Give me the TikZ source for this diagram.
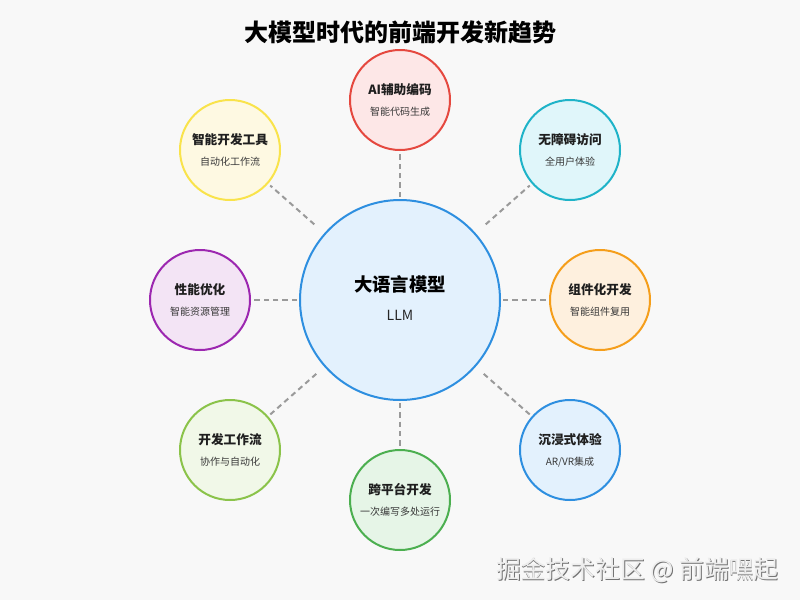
\documentclass[tikz,border=0pt]{standalone}
\usepackage{fontspec}
\setmainfont{Noto Sans CJK SC}

\definecolor{bgc}{HTML}{F8F8F8}
\definecolor{linkc}{HTML}{9A9A9A}
\definecolor{llmc}{HTML}{2E8FE0}   \definecolor{llmf}{HTML}{E3F1FD}
\definecolor{aic}{HTML}{E5483F}    \definecolor{aif}{HTML}{FDE7E7}
\definecolor{accc}{HTML}{1FB3C8}   \definecolor{accf}{HTML}{E0F6FA}
\definecolor{cmpc}{HTML}{F59E1B}   \definecolor{cmpf}{HTML}{FEF0DE}
\definecolor{vrc}{HTML}{2E8FE0}    \definecolor{vrf}{HTML}{E3F1FD}
\definecolor{xpc}{HTML}{4CAF50}    \definecolor{xpf}{HTML}{E6F5E7}
\definecolor{wfc}{HTML}{8BC34A}    \definecolor{wff}{HTML}{F1F8E8}
\definecolor{perc}{HTML}{9C27B0}   \definecolor{perf}{HTML}{F3E4F5}
\definecolor{toolc}{HTML}{F9E34B}  \definecolor{toolf}{HTML}{FEF9E2}

\begin{document}
\begin{tikzpicture}[x=0.75pt,y=-0.75pt,
    ball/.style={circle,draw=#1c,fill=#1f,line width=1.5pt,minimum size=75pt,inner sep=0pt},
    hub/.style={circle,draw=llmc,fill=llmf,line width=1.5pt,minimum size=150pt,inner sep=0pt},
    ttl/.style={font=\bfseries\fontsize{9.5}{11}\selectfont,text=black!88,inner sep=0pt},
    sub/.style={font=\fontsize{7.5}{9}\selectfont,text=black!78,inner sep=0pt},
    link/.style={linkc,line width=1.5pt,dash pattern=on 4pt off 3pt,shorten >=2pt,shorten <=1.5pt}]

  % background
  \fill[bgc] (0,0) rectangle (800,600);

  \node[font=\bfseries\fontsize{18}{21}\selectfont,inner sep=0pt] (head) at (400,32) {大模型时代的前端开发新趋势};

  % center
  \node[hub] (llm) at (400,300) {};
  \node[font=\bfseries\fontsize{13.8}{16}\selectfont,inner sep=0pt] (llmT) at (400,284) {大语言模型};
  \node[font=\fontsize{10.5}{12}\selectfont,text=black!85,inner sep=0pt] (llmS) at (400,315) {LLM};

  % outer circles
  \node[ball=ai] (ai) at (400,100) {};
  \node[ball=acc] (acc) at (570,150) {};
  \node[ball=cmp] (cmp) at (600,300) {};
  \node[ball=vr] (vr) at (570,450) {};
  \node[ball=xp] (xp) at (400,500) {};
  \node[ball=wf] (wf) at (230,450) {};
  \node[ball=per] (per) at (200,300) {};
  \node[ball=tool] (tool) at (230,150) {};

  \node[ttl] (aiT) at (400,90) {AI辅助编码};
  \node[sub] (aiS) at (400,112) {智能代码生成};
  \node[ttl] (accT) at (570,140) {无障碍访问};
  \node[sub] (accS) at (570,162) {全用户体验};
  \node[ttl] (cmpT) at (600,290) {组件化开发};
  \node[sub] (cmpS) at (600,312) {智能组件复用};
  \node[ttl] (vrT) at (570,440) {沉浸式体验};
  \node[sub] (vrS) at (570,462) {AR/VR集成};
  \node[ttl] (xpT) at (400,490) {跨平台开发};
  \node[sub] (xpS) at (400,512) {一次编写多处运行};
  \node[ttl] (wfT) at (230,440) {开发工作流};
  \node[sub] (wfS) at (230,462) {协作与自动化};
  \node[ttl] (perT) at (200,290) {性能优化};
  \node[sub] (perS) at (200,312) {智能资源管理};
  \node[ttl] (toolT) at (230,140) {智能开发工具};
  \node[sub] (toolS) at (230,162) {自动化工作流};

  % links
  \draw[link] (llm) -- (ai);
  \draw[link,shorten <=10pt] (llm) -- (acc);
  \draw[link] (llm) -- (cmp);
  \draw[link,shorten <=8pt] (llm) -- (vr);
  \draw[link] (llm) -- (xp);
  \draw[link,shorten <=8pt] (llm) -- (wf);
  \draw[link] (llm) -- (per);
  \draw[link,shorten <=10pt] (llm) -- (tool);

  % watermark
  \node[font=\fontsize{18.6}{21}\selectfont,text=black!55,inner sep=0pt] (markS) at (638.3,570.8) {掘金技术社区 @ 前端嘿起};
  \node[font=\fontsize{18.6}{21}\selectfont,text=black!7,inner sep=0pt] (mark) at (637.5,570) {掘金技术社区 @ 前端嘿起};
\end{tikzpicture}
\end{document}
